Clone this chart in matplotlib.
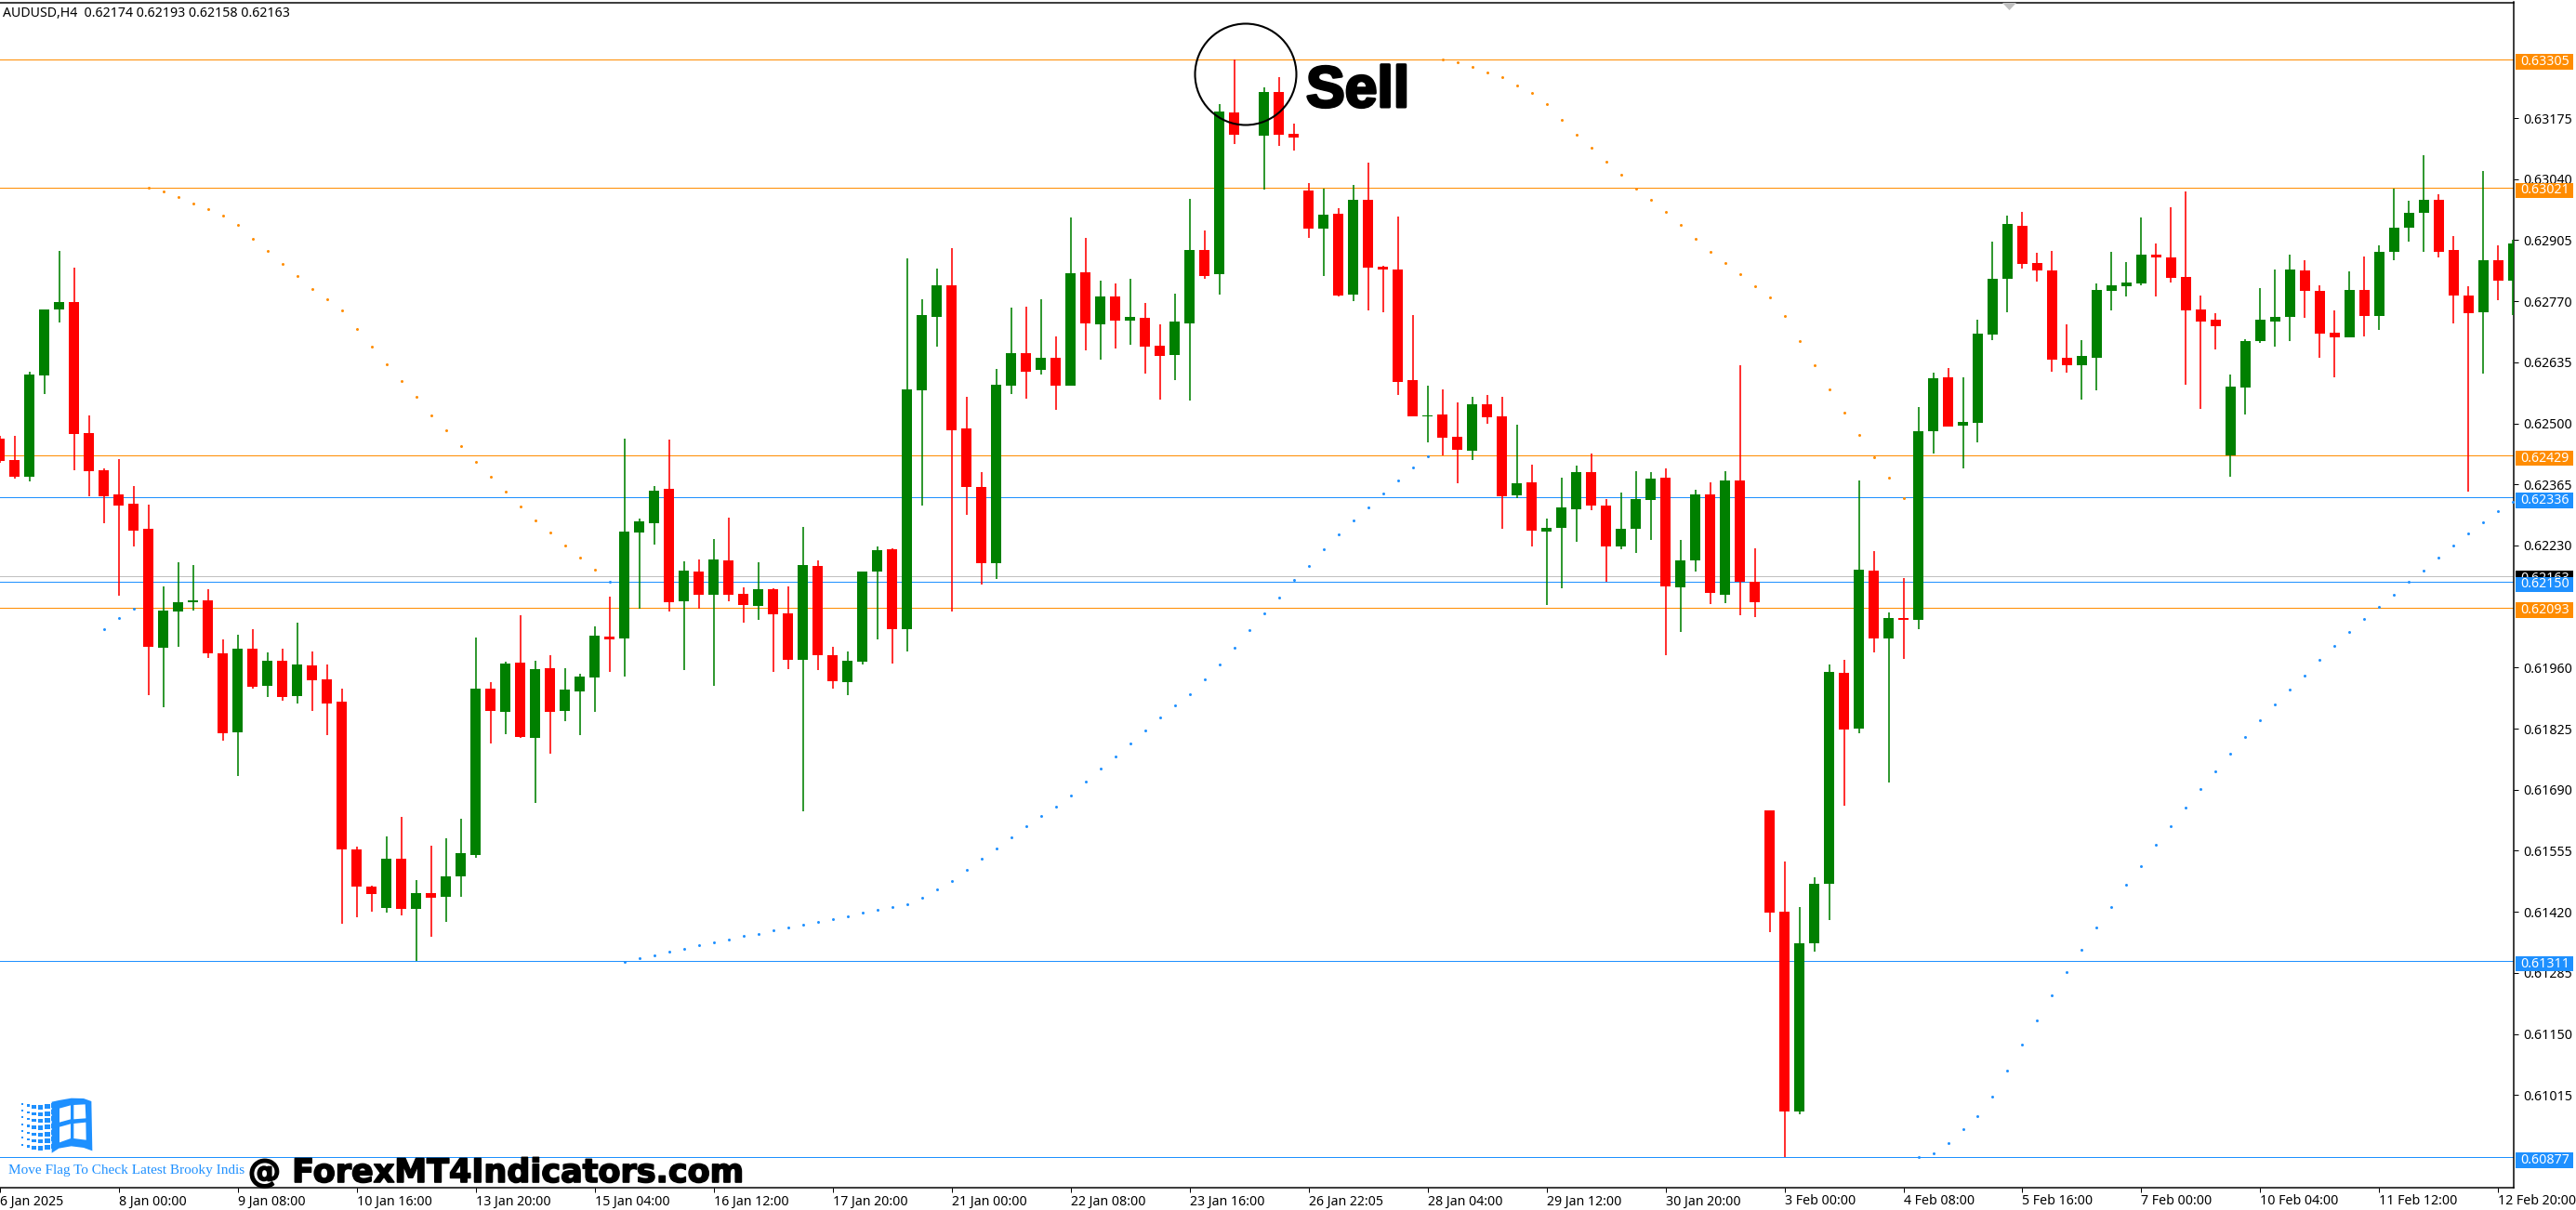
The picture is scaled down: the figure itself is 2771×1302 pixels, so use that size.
import numpy as np
import matplotlib
matplotlib.use('Agg')
import matplotlib.pyplot as plt
import matplotlib.patheffects as pe
from matplotlib.patches import Polygon, Rectangle, Circle

nan = np.nan

# AUDUSD H4 candles, prices in points (1e-5)
opens = [62467, 62418, 62382, 62605, 62752, 62769, 62479, 62397, 62342, 62322,
         62267, 62004, 62085, 62105, 62109, 61991, 61817, 62001, 61920, 61976,
         61897, 61964, 61935, 61885, 61557, 61476, 61429, 61538, 61427, 61462,
         61454, 61498, 61546, 61914, 61863, 61971, 61805, 61959, 61865, 61908,
         61938, 62029, 62025, 62259, 62279, 62356, 62107, 62172, 62121, 62197,
         62124, 62097, 62133, 62080, 61977, 62185, 61988, 61928, 61974, 62172,
         62221, 62045, 62573, 62735, 62805, 62488, 62360, 62191, 62583, 62655,
         62619, 62645, 62583, 62834, 62720, 62781, 62728, 62733, 62672, 62652,
         62721, 62883, 62829, 63187, nan, 63136, 63232, 63141, 63015, 62931,
         62964, 62785, 62994, 62846, 62841, 62595, 62515, 62520, 62471, 62440,
         62542, 62515, 62341, 62370, 62261, 62269, 62310, 62392, 62318, 62227,
         62267, 62331, 62379, 62138, 62197, 62342, 62122, 62373, 62150, 61645,
         61421, 60979, 61351, 61481, 61948, 61826, 62175, 62025, 62070, 62065,
         62483, 62602, 62494, 62501, 62696, 62819, 62936, 62855, 62839, 62645,
         62628, 62645, 62793, 62803, 62810, 62873, 62866, 62824, 62752, 62730,
         62430, 62580, 62681, 62725, 62735, 62839, 62793, 62701, 62691, 62795,
         62738, 62880, 62933, 62965, 62994, 62883, 62783, 62745, 62861, 62815]
closes = [62416, 62382, 62609, 62752, 62769, 62477, 62394, 62339, 62318, 62263,
          62006, 62086, 62105, 62107, 61991, 61815, 62001, 61918, 61976, 61896,
          61966, 61931, 61880, 61557, 61476, 61459, 61538, 61427, 61462, 61452,
          61498, 61549, 61914, 61865, 61969, 61807, 61957, 61863, 61911, 61940,
          62030, 62023, 62261, 62283, 62352, 62105, 62175, 62122, 62199, 62122,
          62099, 62133, 62078, 61977, 62187, 61988, 61930, 61976, 62172, 62220,
          62045, 62575, 62740, 62805, 62484, 62360, 62191, 62585, 62655, 62615,
          62645, 62583, 62832, 62721, 62781, 62728, 62735, 62670, 62650, 62725,
          62883, 62825, 63189, 63138, nan, 63233, 63138, 63133, 62930, 62962,
          62783, 62994, 62844, 62841, 62592, 62515, 62518, 62469, 62442, 62542,
          62513, 62339, 62368, 62263, 62269, 62314, 62392, 62318, 62227, 62267,
          62332, 62377, 62139, 62197, 62342, 62126, 62373, 62150, 62105, 61418,
          60979, 61351, 61481, 61950, 61824, 62177, 62025, 62070, 62065, 62483,
          62600, 62493, 62503, 62699, 62819, 62940, 62853, 62839, 62641, 62628,
          62650, 62795, 62805, 62812, 62873, 62866, 62822, 62750, 62725, 62715,
          62581, 62682, 62730, 62735, 62841, 62793, 62699, 62691, 62795, 62738,
          62880, 62933, 62965, 62994, 62880, 62783, 62744, 62861, 62815, 62897]
highs = [62472, 62472, 62615, 62752, 62881, 62844, 62518, 62401, 62421, 62361,
         62320, 62139, 62192, 62187, 62133, 62022, 62032, 62045, 61994, 62001,
         62059, 61996, 61966, 61914, 61564, 61477, 61587, 61630, 61491, 61567,
         61583, 61625, 62027, 61928, 61974, 62075, 61976, 61988, 61959, 61947,
         62051, 62117, 62467, 62290, 62361, 62464, 62196, 62199, 62245, 62291,
         62138, 62192, 62136, 62139, 62271, 62197, 62005, 61996, 62172, 62228,
         62223, 62865, 62774, 62843, 62887, 62558, 62392, 62621, 62755, 62759,
         62774, 62692, 62955, 62911, 62815, 62810, 62820, 62766, 62720, 62786,
         62996, 62926, 63206, 63305, nan, 63243, 63266, 63162, 63032, 63020,
         62976, 63027, 63076, 62849, 62957, 62740, 62583, 62575, 62547, 62558,
         62563, 62558, 62498, 62409, 62290, 62380, 62407, 62433, 62332, 62348,
         62394, 62392, 62401, 62242, 62353, 62370, 62394, 62628, 62223, 61645,
         61532, 61431, 61496, 61967, 61977, 62373, 62218, 62082, 62158, 62537,
         62612, 62622, 62602, 62730, 62902, 62960, 62967, 62877, 62882, 62720,
         62684, 62810, 62880, 62856, 62955, 62897, 62977, 63012, 62783, 62744,
         62609, 62686, 62800, 62841, 62873, 62860, 62805, 62750, 62836, 62870,
         62894, 63020, 62993, 63093, 63006, 62914, 62803, 63058, 62894, 62907]
lows = [62413, 62377, 62371, 62564, 62723, 62397, 62338, 62279, 62119, 62227,
        61899, 61873, 62006, 62086, 61981, 61798, 61720, 61913, 61896, 61887,
        61880, 61865, 61810, 61394, 61408, 61421, 61419, 61413, 61311, 61365,
        61397, 61454, 61539, 61793, 61813, 61805, 61660, 61769, 61841, 61810,
        61863, 61951, 61940, 62090, 62232, 62085, 61955, 62090, 61920, 62107,
        62059, 62066, 61951, 61957, 61643, 61955, 61914, 61899, 61967, 62022,
        61969, 61996, 62318, 62669, 62083, 62297, 62143, 62155, 62564, 62554,
        62609, 62529, 62583, 62662, 62640, 62665, 62674, 62611, 62553, 62595,
        62551, 62819, 62785, 63117, nan, 63016, 63114, 63104, 62911, 62825,
        62781, 62771, 62750, 62745, 62563, 62515, 62459, 62430, 62367, 62419,
        62500, 62267, 62334, 62228, 62099, 62136, 62239, 62308, 62150, 62222,
        62213, 62242, 61988, 62039, 62172, 62100, 62102, 62075, 62071, 61375,
        60877, 60972, 61331, 61401, 61655, 61815, 61994, 61706, 61979, 62045,
        62433, 62493, 62401, 62457, 62684, 62745, 62843, 62814, 62615, 62612,
        62553, 62573, 62750, 62781, 62805, 62781, 62812, 62585, 62532, 62663,
        62382, 62520, 62677, 62670, 62682, 62733, 62645, 62602, 62691, 62692,
        62706, 62861, 62902, 62880, 62866, 62721, 62349, 62610, 62773, 62740]

# indicator dots, one per bar, first bar given by *_start
blue_a_start = 7
blue_a = [62045, 62069, 62091]
orange_a_start = 10
orange_a = [63021, 63013, 63001, 62986, 62974, 62959, 62938, 62909, 62881, 62853,
            62825, 62798, 62774, 62749, 62708, 62669, 62631, 62593, 62558, 62518,
            62484, 62450, 62414, 62382, 62349, 62317, 62286, 62259, 62230, 62203,
            62176]
blue_b_start = 41
blue_b = [62150]
blue_c_start = 42
blue_c = [61310, 61317, 61324, 61331, 61338, 61346, 61353, 61358, 61367, 61372,
          61379, 61385, 61391, 61397, 61404, 61411, 61418, 61425, 61430, 61437,
          61452, 61469, 61488, 61512, 61538, 61561, 61585, 61609, 61631, 61653,
          61677, 61708, 61737, 61764, 61793, 61822, 61850, 61877, 61902, 61933,
          61967, 62003, 62042, 62080, 62115, 62153, 62185, 62221, 62254, 62285,
          62315, 62344, 62373, 62402, 62428]
orange_b_start = 97
orange_b = [63305, 63298, 63288, 63276, 63266, 63247, 63230, 63206, 63172, 63139,
            63109, 63078, 63049, 63020, 62994, 62967, 62938, 62909, 62880, 62855,
            62829, 62803, 62778, 62737, 62682, 62628, 62575, 62524, 62474, 62426,
            62380, 62334]
blue_d_start = 129
blue_d = [60877, 60887, 60908, 60939, 60969, 61012, 61068, 61126, 61179, 61235,
          61286, 61336, 61385, 61431, 61479, 61522, 61568, 61609, 61650, 61691,
          61730, 61769, 61807, 61843, 61879, 61911, 61943, 61977, 62008, 62039,
          62068, 62095, 62122, 62150, 62175, 62204, 62230, 62256, 62281, 62305,
          62327]

# horizontal levels
orange_levels = [63305, 63021, 62429, 62093]
blue_levels = [62336, 62150, 61311, 60877]
last_price = 62163

price_ticks = [63175, 63040, 62905, 62770, 62635, 62500, 62365, 62230,
               61960, 61825, 61690, 61555, 61420, 61285, 61150, 61015]
time_labels = ['6 Jan 2025', '8 Jan 00:00', '9 Jan 08:00', '10 Jan 16:00', '13 Jan 20:00',
               '15 Jan 04:00', '16 Jan 12:00', '17 Jan 20:00', '21 Jan 00:00', '22 Jan 08:00',
               '23 Jan 16:00', '26 Jan 22:05', '28 Jan 04:00', '29 Jan 12:00', '30 Jan 20:00',
               '3 Feb 00:00', '4 Feb 08:00', '5 Feb 16:00', '7 Feb 00:00', '10 Feb 04:00',
               '11 Feb 12:00', '12 Feb 20:00']

RED = '#ff0000'
GREEN = '#008000'
ORANGE = '#ff8c00'
BLUE = '#1e90ff'
W, H = 2771, 1302
PX = 0.72  # one pixel in points at dpi 100

plt.rcParams['font.family'] = ['Noto Sans', 'DejaVu Sans']

fig = plt.figure(figsize=(W / 100, H / 100), dpi=100, facecolor='white')
ax = fig.add_axes([0, 1 - 1278 / H, 2704 / W, (1278 - 2.5) / H])

o = np.array(opens) / 1e5
c = np.array(closes) / 1e5
hi = np.array(highs) / 1e5
lo = np.array(lows) / 1e5
x = np.arange(len(o))
up = c >= o
colors = np.where(up, GREEN, RED)

ax.vlines(x, lo, hi, colors=colors, linewidth=1.6 * PX, zorder=3)
body_low = np.minimum(o, c)
body_h = np.maximum(np.abs(c - o), 0.00003)
ax.bar(x, body_h, bottom=body_low, width=11 / 16, color=colors, linewidth=0, zorder=3)

for level in orange_levels:
    ax.axhline(level / 1e5, color=ORANGE, linewidth=0.6, zorder=2, snap=True, antialiased=False)
for level in blue_levels:
    ax.axhline(level / 1e5, color=BLUE, linewidth=0.6, zorder=2, snap=True, antialiased=False)
ax.axhline(last_price / 1e5, color='#c0c0c0', linewidth=0.6, zorder=1, snap=True, antialiased=False)

for start, vals, col in [(blue_a_start, blue_a, BLUE), (orange_a_start, orange_a, ORANGE),
                         (blue_b_start, blue_b, BLUE), (blue_c_start, blue_c, BLUE),
                         (orange_b_start, orange_b, ORANGE), (blue_d_start, blue_d, BLUE)]:
    xs = np.arange(start, start + len(vals))
    ax.plot(xs, np.array(vals) / 1e5, linestyle='none', marker='o', markersize=3 * PX,
            markeredgewidth=0, color=col, zorder=4)

ax.set_xlim(0.0375, 169.04)
ax.set_ylim(0.60810, 0.63431)

ax.yaxis.tick_right()
ax.set_yticks(np.array(price_ticks) / 1e5, ['%.5f' % (p / 1e5) for p in price_ticks])
ax.set_xticks(x[::8], time_labels, ha='left')
ax.tick_params(axis='y', length=5 * PX, width=PX, pad=5 * PX, labelsize=10.2, colors='black')
ax.tick_params(axis='x', length=5 * PX, width=PX, pad=2.5 * PX, labelsize=10.2, colors='black')
ax.spines['left'].set_visible(False)
for s in ['top', 'right', 'bottom']:
    ax.spines[s].set_linewidth(1.5 * PX)

# price tags on the right scale, later tags cover the earlier ones
tr = ax.get_yaxis_transform()
tag_x = 1 + 2 / 2704
tag_w = 62 / 2704
tags = [(last_price, 'black')]
tags += [(p, ORANGE) for p in orange_levels] + [(p, BLUE) for p in blue_levels]
for n, (p, col) in enumerate(tags):
    y = p / 1e5
    ax.add_patch(Rectangle((tag_x, y - 0.00023), tag_w, 0.00034, transform=tr, facecolor=col,
                           edgecolor='none', clip_on=False, zorder=6 + n))
    ax.text(1 + 7 / 2704, y - 0.00006, '%.5f' % y, transform=tr, color='white', fontsize=10.2,
            va='center', ha='left', clip_on=False, zorder=6 + n)

# everything below is placed in picture pixels
top = fig.add_axes([0, 0, 1, 1], facecolor='none')
top.set_xlim(0, W)
top.set_ylim(H, 0)
top.axis('off')

top.text(3, 14, 'AUDUSD,H4  0.62174 0.62193 0.62158 0.62163', fontsize=10.2, color='black',
         va='center', ha='left')
top.add_patch(Polygon([(2154, 3), (2169, 3), (2161.5, 11)], facecolor='#c0c0c0', edgecolor='none'))

top.add_patch(Circle((1340, 80), 54.5, fill=False, edgecolor='black', linewidth=1.5))
top.text(1405, 115, 'Sell', family='Liberation Sans', weight='bold', fontsize=45, color='black',
         va='baseline', ha='left', path_effects=[pe.withStroke(linewidth=2.2, foreground='black')])

top.text(9, 1259, 'Move Flag To Check Latest Brooky Indis', family='Liberation Serif', fontsize=11,
         color=BLUE, va='center', ha='left')
top.text(267, 1272, '@ ForexMT4Indicators.com', family='DejaVu Sans', weight='bold',
         fontsize=25.2, color='black', va='baseline', ha='left',
         path_effects=[pe.withStroke(linewidth=1.2, foreground='black')])


# logo, pixel positions of the little flag
def logo_pt(px, py):
    return 10 + px / 3, 1170 + py / 3


flag = [(137, 47), (160, 42), (200, 35), (240, 36), (265, 45), (268, 205), (240, 195), (200, 190),
        (160, 197), (137, 212)]
top.add_patch(Polygon([logo_pt(*p) for p in flag], facecolor=BLUE, edgecolor='none'))
panes = [[(162, 68), (198, 58), (198, 103), (162, 113)], [(208, 57), (245, 55), (247, 100), (208, 103)],
         [(162, 128), (198, 118), (198, 165), (162, 178)], [(208, 117), (247, 113), (248, 170), (208, 165)]]
for pane in panes:
    top.add_patch(Polygon([logo_pt(*p) for p in pane], facecolor='white', edgecolor='none'))
for cx, size, y0 in [(38, 7, 50), (56, 9, 55), (73, 13, 58), (92, 16, 58), (113, 19, 55), (136, 19, 50)]:
    for row in range(7):
        px, py = logo_pt(cx, y0 + row * 22)
        top.add_patch(Rectangle((px, py), size / 3, size * 0.8 / 3, facecolor=BLUE, edgecolor='none'))

fig.savefig('out.png', dpi=100, facecolor='white')
